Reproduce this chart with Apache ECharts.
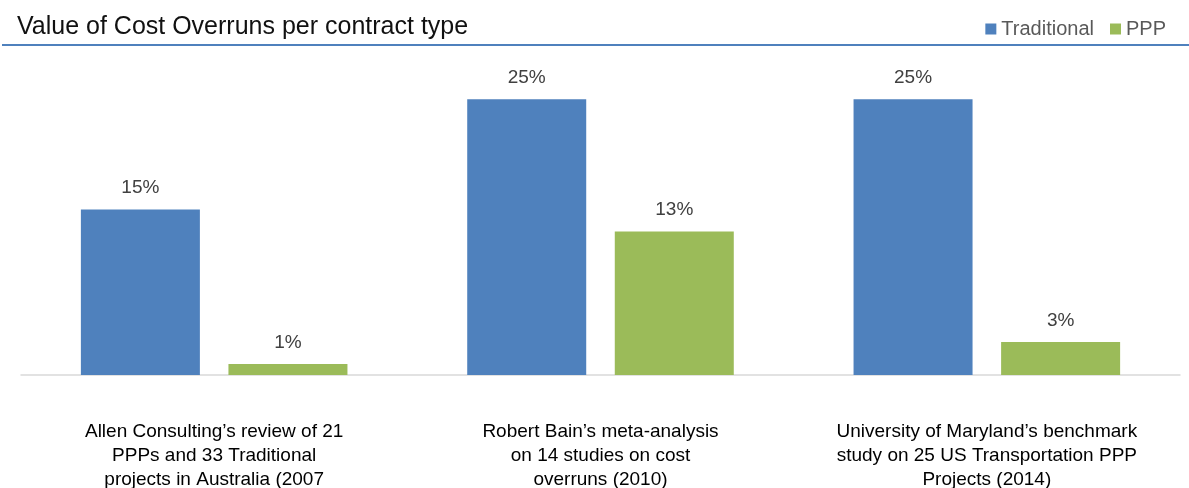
<!DOCTYPE html>
<html>
<head>
<meta charset="utf-8">
<script src="https://cdn.jsdelivr.net/npm/echarts@6/dist/echarts.min.js"></script>
<style>
  html, body { margin: 0; padding: 0; background: #fff; }
  #chart { width: 1189px; height: 488px; }
</style>
</head>
<body>
<div id="chart"></div>
<script>
// 数据
const categories = [
  'Allen Consulting’s review of 21\nPPPs and 33 Traditional\nprojects in Australia (2007',
  'Robert Bain’s meta-analysis\non 14 studies on cost\noverruns (2010)',
  'University of Maryland’s benchmark\nstudy on 25 US Transportation PPP\nProjects (2014)'
]
const traditional = [0.15, 0.25, 0.25]
const ppp = [0.01, 0.13, 0.03]

const font = 'Liberation Sans, Arial, sans-serif'
const pct = (p) => Math.round(p.value * 100) + '%'

const chart = echarts.init(document.getElementById('chart'))
chart.setOption({
  animation: false,
  title: {
    text: 'Value of Cost Overruns per contract type',
    left: 12,
    top: 10,
    textStyle: { fontFamily: font, fontSize: 25, fontWeight: 'normal', color: '#111' }
  },
  legend: {
    right: 18,
    top: 14,
    icon: 'rect',
    itemWidth: 11,
    itemHeight: 11,
    itemGap: 16,
    textStyle: { fontFamily: font, fontSize: 20, color: '#595959' },
    data: ['Traditional', 'PPP']
  },
  graphic: [
    {
      type: 'line',
      shape: { x1: 2, y1: 45, x2: 1189, y2: 45 },
      style: { stroke: '#4F81BD', lineWidth: 2 }
    }
  ],
  grid: { left: 21, right: 9, top: 44, bottom: 113, outerBoundsMode: 'none' },
  xAxis: {
    type: 'category',
    data: categories,
    axisTick: { show: false },
    axisLine: { lineStyle: { color: '#d9d9d9', width: 1.5 } },
    axisLabel: {
      margin: 45,
      interval: 0,
      fontFamily: font,
      fontSize: 19,
      lineHeight: 24,
      color: '#000'
    }
  },
  yAxis: {
    type: 'value',
    min: 0,
    max: 0.3,
    show: false,
    splitLine: { show: false }
  },
  series: [
    {
      name: 'Traditional',
      type: 'bar',
      data: traditional,
      barGap: '24%',
      barCategoryGap: '31%',
      itemStyle: { color: '#4F81BD' },
      label: {
        show: true,
        position: 'top',
        distance: 12,
        formatter: pct,
        fontFamily: font,
        fontSize: 19,
        color: '#404040'
      }
    },
    {
      name: 'PPP',
      type: 'bar',
      data: ppp,
      itemStyle: { color: '#9BBB59' },
      label: {
        show: true,
        position: 'top',
        distance: 12,
        formatter: pct,
        fontFamily: font,
        fontSize: 19,
        color: '#404040'
      }
    }
  ]
})
</script>
</body>
</html>
